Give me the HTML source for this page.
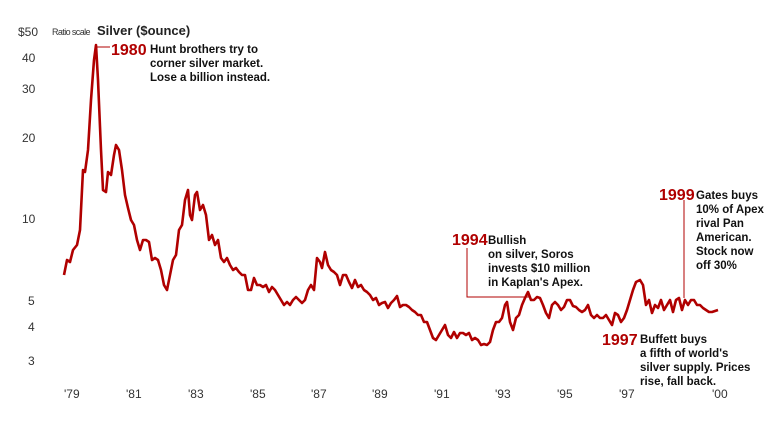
<!DOCTYPE html>
<html><head><style>
body{margin:0;background:#fff;}
svg{display:block;font-family:"Liberation Sans",sans-serif;}
.ax{font-size:12px;fill:#333;font-stretch:condensed}
.yr{font-size:16px;font-weight:bold;fill:#b00000}
.t{font-size:11.5px;font-weight:bold;fill:#111}
</style></head><body>
<svg width="770" height="430" viewBox="0 0 770 430">
<g class="ax">
<text x="18" y="36">$50</text>
<text x="22" y="62">40</text>
<text x="22" y="93">30</text>
<text x="22" y="142">20</text>
<text x="22" y="223">10</text>
<text x="28" y="305">5</text>
<text x="28" y="331">4</text>
<text x="28" y="365">3</text>
<text x="64" y="398">'79</text><text x="126" y="398">'81</text><text x="188" y="398">'83</text>
<text x="250" y="398">'85</text><text x="311" y="398">'87</text><text x="372" y="398">'89</text>
<text x="434" y="398">'91</text><text x="495" y="398">'93</text><text x="557" y="398">'95</text>
<text x="619" y="398">'97</text><text x="712" y="398">'00</text>
</g>
<text x="52" y="35" font-size="9" fill="#333" letter-spacing="-0.6">Ratio scale</text>
<text x="97" y="35" font-size="13" font-weight="bold" fill="#222">Silver ($ounce)</text>
<g stroke="#b00000" stroke-width="1" fill="none">
<polyline points="97,47 110,47"/>
<polyline points="467,248 467,297 530,297"/>
<polyline points="684,200 684,298"/>
</g>
<polyline fill="none" stroke="#b00000" stroke-width="2.6" stroke-linejoin="round" points="64,275 67,260 70,262 73,250 77,245 80,230 83,170 85,172 88,150 91,100 94,60 96,45 98,80 101,150 103,190 106,192 108,172 111,175 114,155 116,145 119,150 122,170 125,195 128,208 131,220 134,225 137,240 140,250 143,240 146,240 149,242 152,260 155,258 158,260 161,270 164,285 167,290 170,275 173,260 176,255 179,230 182,225 185,200 188,190 190,215 192,220 195,195 197,192 200,210 203,205 206,215 209,240 212,235 215,245 218,240 221,258 224,262 227,258 230,265 233,270 236,268 239,272 242,275 245,275 248,290 251,290 254,278 257,285 260,285 263,287 266,285 269,292 272,287 275,290 278,295 281,300 284,305 287,302 290,305 293,300 296,297 299,300 302,303 305,300 308,290 311,285 314,290 317,258 320,262 322,268 325,252 328,265 331,270 334,272 337,275 340,285 343,275 346,275 349,282 352,288 355,280 358,287 361,285 364,290 367,292 370,295 373,300 376,298 379,305 382,303 385,302 388,308 391,303 394,300 397,296 400,307 403,305 406,305 409,307 412,310 415,312 418,315 421,315 424,322 427,322 430,330 433,338 436,340 439,335 442,330 445,325 448,335 451,338 454,332 457,338 460,333 463,333 466,335 469,333 472,340 475,338 478,340 481,345 484,344 487,345 490,342 493,330 496,322 499,322 502,318 505,305 507,302 510,322 513,330 516,318 519,315 522,305 525,298 528,292 531,300 534,300 537,297 540,298 543,305 546,313 549,318 552,305 555,302 558,305 561,310 564,307 567,300 570,300 573,306 576,307 579,310 582,312 585,310 588,305 591,315 594,318 597,315 600,318 603,318 606,315 609,320 612,325 615,313 618,315 621,322 624,318 627,310 630,300 633,290 636,282 640,280 643,285 646,305 649,300 652,313 655,305 658,308 661,300 664,310 667,305 670,300 673,312 676,300 679,298 682,310 685,300 688,305 691,300 694,300 697,305 700,305 703,308 706,310 709,312 712,312 715,311 718,310"/>
<text class="yr" x="111" y="55">1980</text>
<g class="t"><text x="150" y="53">Hunt brothers try to</text><text x="150" y="67">corner silver market.</text><text x="150" y="81">Lose a billion instead.</text></g>
<text class="yr" x="452" y="245">1994</text>
<g class="t"><text x="488" y="244">Bullish</text><text x="488" y="258">on silver, Soros</text><text x="488" y="272">invests $10 million</text><text x="488" y="286">in Kaplan's Apex.</text></g>
<text class="yr" x="659" y="200">1999</text>
<g class="t"><text x="696" y="199">Gates buys</text><text x="696" y="213">10% of Apex</text><text x="696" y="227">rival Pan</text><text x="696" y="241">American.</text><text x="696" y="255">Stock now</text><text x="696" y="269">off 30%</text></g>
<text class="yr" x="602" y="345">1997</text>
<g class="t"><text x="640" y="343">Buffett buys</text><text x="640" y="357">a fifth of world's</text><text x="640" y="371">silver supply. Prices</text><text x="640" y="385">rise, fall back.</text></g>
</svg>
</body></html>
